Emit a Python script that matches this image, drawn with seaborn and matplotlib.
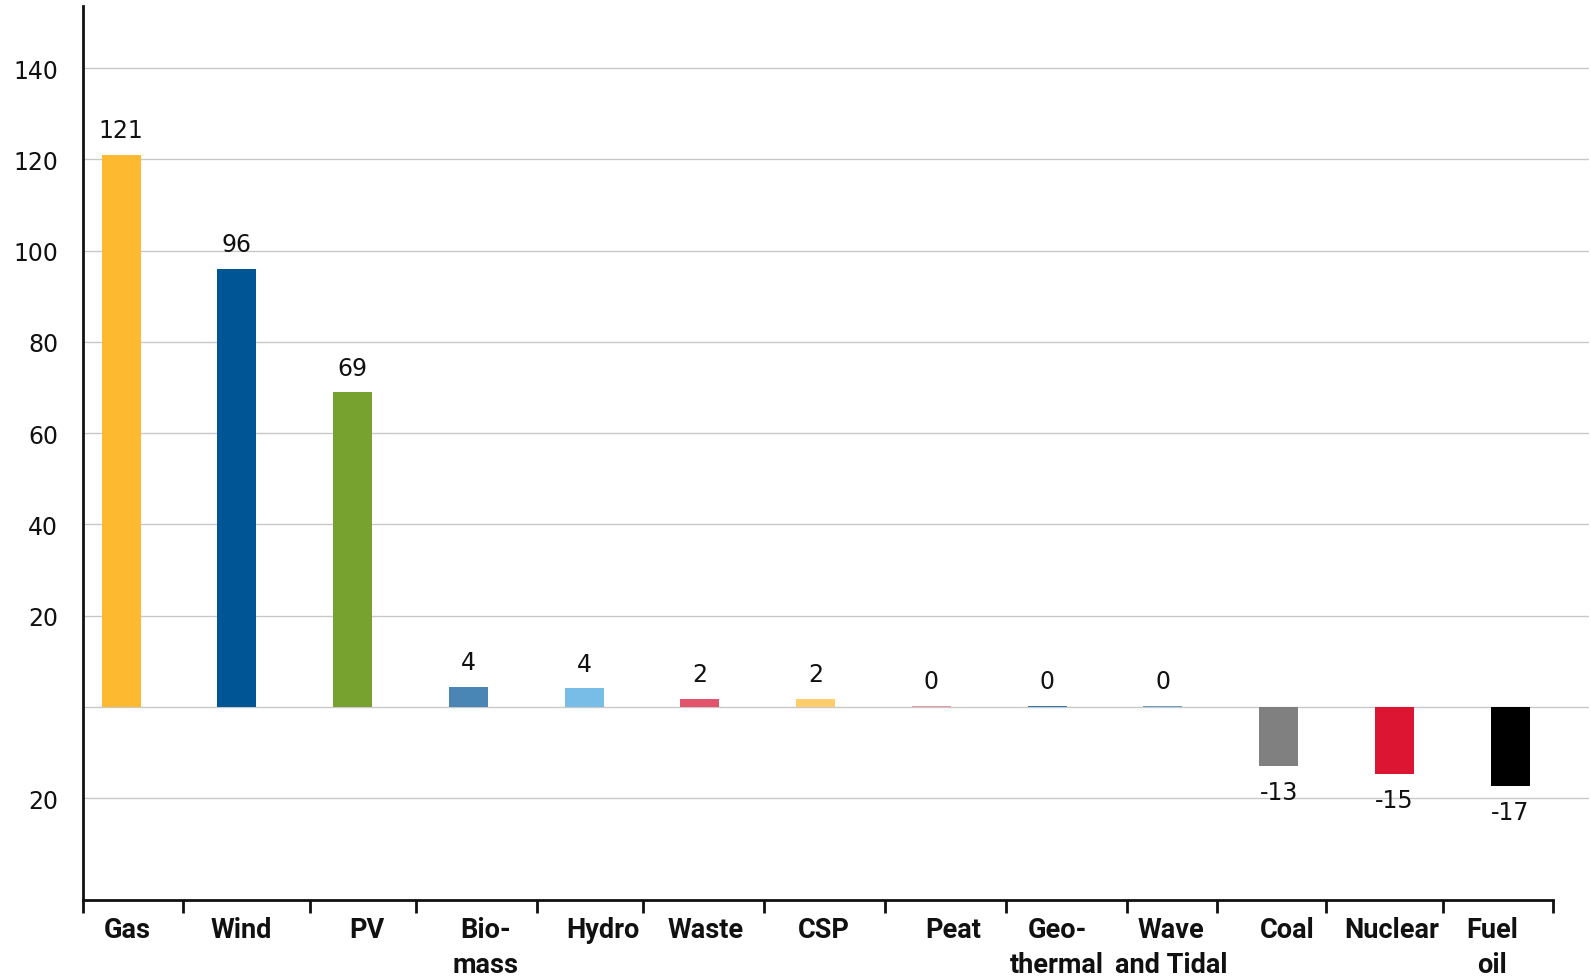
import pandas as pd
import matplotlib.pyplot as plt
import seaborn as sns

# Dữ liệu
sources = ['Gas', 'Wind', 'PV', 'Biomass', 'Hydro', 'Waste', 'CSP', 'Peat',
           'Geothermal', 'Wave and Tidal', 'Coal', 'Nuclear', 'Fuel oil']
labels = ['Gas', 'Wind', 'PV', 'Bio-\nmass', 'Hydro', 'Waste', 'CSP', 'Peat',
          'Geo-\nthermal', 'Wave\nand Tidal', 'Coal', 'Nuclear', 'Fuel\noil']
values = [121, 96, 69, 4.4, 4.1, 1.8, 1.8, 0.3, 0.3, 0.3, -12.9, -14.8, -17.4]
colors = ['#FDBA30', '#005595', '#78A22F', '#4A86B5', '#78BCE8', '#E2546B',
          '#FFCE6B', '#E79AA3', '#2F7AB5', '#6A9EC5', '#808080', '#DC1632', '#000000']
ytick_vals = [-20, 20, 40, 60, 80, 100, 120, 140]
ytick_labels = ['20', '20', '40', '60', '80', '100', '120', '140']
grid_vals = [-20, 0, 20, 40, 60, 80, 100, 120, 140]
# vị trí vạch chia trục x và độ lệch nhãn (như hình gốc, không đều)
xtick_marks = [-0.33, 0.535, 1.63, 2.55, 3.59, 4.51, 5.55, 6.60, 7.64, 8.69, 9.47, 10.41, 11.42, 12.37]
label_shift = [0.05, 0.035, 0.12, 0.15, 0.165, 0.045, 0.07, 0.19, 0.085, 0.07, 0.07, -0.02, -0.16]

df = pd.DataFrame({'source': sources, 'value': values})

sns.set_style('white')
plt.rcParams['font.family'] = ['DejaVu Sans']

fig = plt.figure(figsize=(15.91, 9.79), dpi=100)
ax = fig.add_axes([0.0522, 0.0797, 0.9465, 0.9131])

sns.barplot(data=df, x='source', y='value', hue='source',
            palette=dict(zip(sources, colors)), width=0.337, dodge=False,
            saturation=1, linewidth=0, legend=False, ax=ax, zorder=3)

ax.set_xlim(-0.33, 12.68)
ax.set_ylim(-42.3, 153.6)

for g in grid_vals:
    ax.axhline(g, color='#c8c8c8', lw=1.0, zorder=1)

# nhãn giá trị
for i, v in enumerate(values):
    if v >= 0:
        ax.annotate(f'{round(v)}', (i, v), xytext=(0, 9), textcoords='offset points',
                    ha='center', va='bottom', fontsize=17, color='#111111')
    else:
        ax.annotate(f'{round(v)}', (i, v), xytext=(0, -10), textcoords='offset points',
                    ha='center', va='top', fontsize=17, color='#111111')

ax.set_yticks(ytick_vals)
ax.set_yticklabels(ytick_labels, fontsize=17, color='#111111')
ax.tick_params(axis='y', left=False, length=0, pad=18)

ax.set_xticks(xtick_marks)
ax.set_xticklabels([])
ax.tick_params(axis='x', bottom=True, length=9, width=2.0, direction='out', color='#111111')
for i, lab in enumerate(labels):
    ax.text(i + label_shift[i], -45.8, lab, ha='center', va='top', fontsize=19.5,
            family=['Roboto', 'DejaVu Sans'], fontweight='bold', linespacing=1.36,
            color='#111111')

ax.set_xlabel('')
ax.set_ylabel('')
for s in ['top', 'right']:
    ax.spines[s].set_visible(False)
ax.spines['left'].set_linewidth(2.0)
ax.spines['left'].set_color('#111111')
ax.spines['bottom'].set_linewidth(2.0)
ax.spines['bottom'].set_color('#111111')
ax.spines['bottom'].set_bounds(-0.33, 12.37)

plt.savefig('out.png', dpi=100)
